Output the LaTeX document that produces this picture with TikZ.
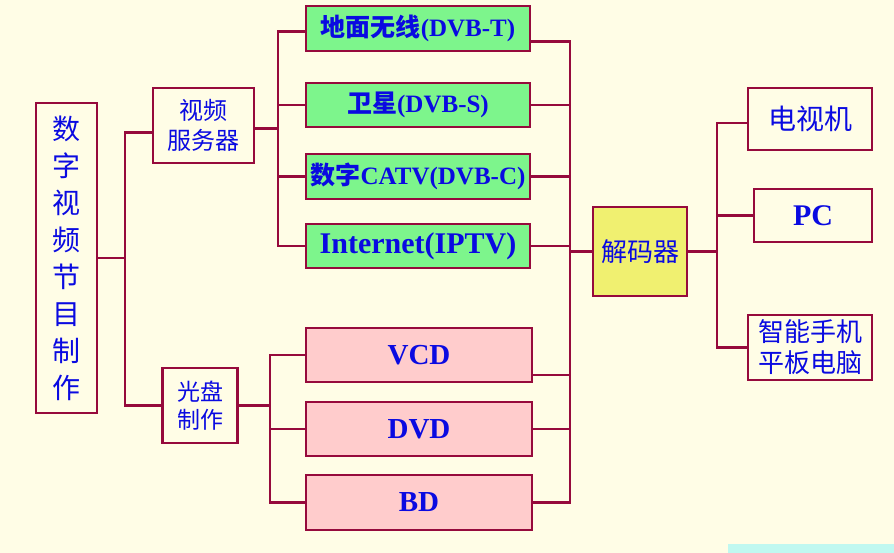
\documentclass[tikz,border=0pt]{standalone}
\usepackage{fontspec}
\setmainfont{Liberation Serif}
\newfontfamily\cjk{Noto Sans CJK SC}
\definecolor{bgc}{RGB}{255,253,230}
\definecolor{linec}{RGB}{150,10,60}
\definecolor{txtc}{RGB}{10,10,225}
\definecolor{greenc}{RGB}{125,245,140}
\definecolor{pinkc}{RGB}{255,204,204}
\definecolor{yellowc}{RGB}{240,240,112}
\definecolor{cyanc}{RGB}{192,248,240}
\tikzset{
  box/.style={draw=linec, line width=2.5pt, inner sep=0pt, text=txtc, align=center, fill=bgc},
  gbox/.style={box, fill=greenc, minimum width=224pt, minimum height=45pt},
  pbox/.style={box, fill=pinkc, minimum width=226pt, minimum height=54pt},
  wire/.style={draw=linec, line width=2.5pt}
}
\begin{document}
\begin{tikzpicture}[x=1pt,y=-1pt]
\useasboundingbox (0,0) rectangle (894,553);
\fill[bgc] (0,0) rectangle (894,553);
\fill[cyanc] (728,544) rectangle (894,553);

% nodes
\node[box, minimum width=61pt, minimum height=310pt, font=\cjk\fontsize{28}{37}\selectfont] (main) at (66.5,258)
  {数\\字\\视\\频\\节\\目\\制\\作};
\node[box, minimum width=101pt, minimum height=75pt, font=\cjk\fontsize{24}{30}\selectfont] (srv) at (203.5,125.5) {视频\\服务器};
\node[box, minimum width=75pt, minimum height=75pt, font=\cjk\fontsize{23}{28}\selectfont] (disc) at (200,405.5) {光盘\\制作};

\node[gbox, font=\fontsize{25}{30}\selectfont\bfseries] (g1) at (418,28.5) {{\cjk 地面无线}(DVB-T)};
\node[gbox, minimum height=44pt, font=\fontsize{25}{30}\selectfont\bfseries] (g2) at (418,105) {{\cjk 卫星}(DVB-S)};
\node[gbox, font=\fontsize{25}{30}\selectfont\bfseries] (g3) at (418,176.5) {{\cjk 数字}CATV(DVB-C)};
\node[gbox, minimum height=44pt, font=\fontsize{30}{34}\selectfont\bfseries] (g4) at (418,246) {Internet(IPTV)};

\node[pbox, font=\fontsize{29}{34}\selectfont\bfseries] (p1) at (419,355) {VCD};
\node[pbox, font=\fontsize{29}{34}\selectfont\bfseries] (p2) at (419,429) {DVD};
\node[pbox, minimum height=55pt, font=\fontsize{29}{34}\selectfont\bfseries] (p3) at (419,502.5) {BD};

\node[box, fill=yellowc, minimum width=94pt, minimum height=89pt, font=\cjk\fontsize{26}{30}\selectfont] (dec) at (640,251.5) {解码器};

\node[box, minimum width=124pt, minimum height=62pt, font=\cjk\fontsize{28}{32}\selectfont] (tv) at (810,119) {电视机};
\node[box, minimum width=118pt, minimum height=53pt, font=\fontsize{30}{34}\selectfont\bfseries] (pc) at (813,215.5) {PC};
\node[box, minimum width=124pt, minimum height=65pt, font=\cjk\fontsize{26}{31}\selectfont] (phone) at (810,347.5) {智能手机\\平板电脑};

% buses
\coordinate (busA) at (125,0);
\coordinate (busB) at (278,0);
\coordinate (busC) at (270,0);
\coordinate (busD) at (570,0);
\coordinate (busE) at (717,0);

% bus A
\draw[wire] (main.east) -- (main.east -| busA);
\draw[wire] ([yshift=-7pt]srv.west) -| (busA |- disc.west) -- (disc.west);

% bus B
\draw[wire] ([yshift=-3pt]srv.east) -- ([yshift=-3pt]srv.east -| busB);
\draw[wire] ([yshift=-3pt]g1.west) -| (busB |- g4.west) -- (g4.west);
\draw[wire] (g2.west) -- (g2.west -| busB);
\draw[wire] (g3.west) -- (g3.west -| busB);

% bus C
\draw[wire] (disc.east) -- (disc.east -| busC);
\draw[wire] (p1.west) -| (busC |- p3.west) -- (p3.west);
\draw[wire] (p2.west) -- (p2.west -| busC);

% bus D
\draw[wire] ([yshift=-13pt]g1.east) -| (busD |- p3.east) -- (p3.east);
\draw[wire] (g2.east) -- (g2.east -| busD);
\draw[wire] (g3.east) -- (g3.east -| busD);
\draw[wire] (g4.east) -- (g4.east -| busD);
\draw[wire] ([yshift=-20pt]p1.east) -- ([yshift=-20pt]p1.east -| busD);
\draw[wire] (p2.east) -- (p2.east -| busD);
\draw[wire] (dec.west) -- (dec.west -| busD);

% bus E
\draw[wire] (dec.east) -- (dec.east -| busE);
\draw[wire] ([yshift=-4pt]tv.west) -| (busE |- phone.west) -- (phone.west);
\draw[wire] (pc.west) -- (pc.west -| busE);
\end{tikzpicture}
\end{document}
